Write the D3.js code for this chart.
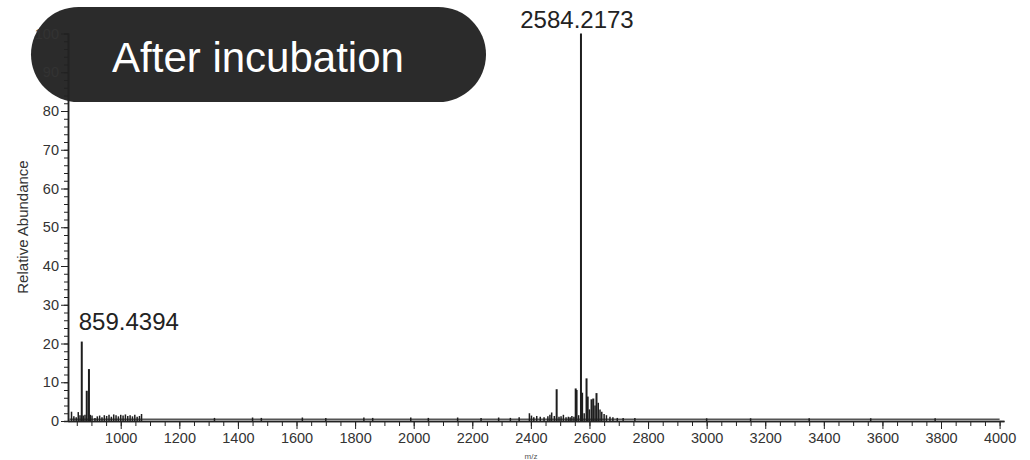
<!DOCTYPE html>
<html>
<head>
<meta charset="utf-8">
<script src="https://cdn.jsdelivr.net/npm/d3@7"></script>
<style>
  body { margin: 0; background: #fff; }
  svg { display: block; font-family: "Liberation Sans", Arial, sans-serif; }
</style>
</head>
<body>
<div id="chart"></div>
<script>
const WIDTH = 1030;
const HEIGHT = 460;

// peak list (m/z, relative abundance %)
const peakMz = [
  832, 840, 848, 855, 861, 867, 872, 878, 884, 891.5, 896, 902,
  912, 920, 928, 936, 944, 952, 960, 968, 976, 984, 992, 1000, 1008, 1016, 1024, 1032, 1040, 1048, 1056, 1064, 1071,
  1320, 1450, 1480, 1620, 1700, 1830, 1860, 1990, 2050, 2150, 2230, 2290, 2330, 2360,
  2395, 2402, 2410, 2420, 2432, 2445, 2458, 2465, 2471, 2480, 2488, 2496, 2503, 2511, 2520, 2528, 2534, 2540, 2547,
  2553, 2556, 2563, 2571, 2575, 2582, 2590, 2594, 2600, 2607, 2613, 2619, 2624, 2630, 2636, 2642, 2650, 2658, 2670, 2680, 2695, 2715, 2755,
  3000, 3150, 3350, 3560, 3780
];
const peakInt = [
  2.4, 1.2, 1.0, 2.3, 1.5, 20.5, 1.4, 1.6, 7.8, 13.4, 1.6, 1.4,
  0.8, 1.2, 1.4, 1.0, 1.5, 1.3, 1.6, 1.1, 1.7, 1.5, 1.2, 1.6, 1.4, 1.7, 1.3, 1.5, 1.2, 1.6, 1.1, 1.3, 1.8,
  0.8, 0.9, 0.8, 0.9, 0.8, 0.9, 0.8, 0.9, 0.8, 0.9, 0.8, 0.9, 0.8, 1.0,
  2.0, 1.4, 1.0, 1.3, 1.1, 1.0, 1.2, 1.6, 2.2, 1.3, 8.2, 1.1, 1.2, 1.6, 1.0, 1.1, 1.0, 1.3, 1.1,
  8.4, 8.0, 1.5, 100, 7.3, 2.0, 11.0, 6.3, 3.0, 5.6, 5.8, 4.0, 7.2, 4.7, 3.0, 2.4, 1.8, 1.5, 1.1, 1.0, 0.8, 0.8, 0.8,
  0.7, 0.7, 0.7, 0.7, 0.7
];
const floorLevel = 0.45;

const labelMz = [867, 2571];
const labelText = ["859.4394", "2584.2173"];

const yMajor = d3.range(0, 101, 10);
const yMinor = d3.range(0, 101, 2);
const xMajor = d3.range(1000, 4001, 200);
const xMinor = d3.range(850, 4001, 50);

const x = d3.scaleLinear().domain([820, 4015]).range([68, 1004]);
const y = d3.scaleLinear().domain([0, 100]).range([421, 33.5]);

const svg = d3.select("#chart")
  .append("svg")
    .attr("width", WIDTH)
    .attr("height", HEIGHT);

// title pill
svg.append("rect")
  .attr("x", 31)
  .attr("y", 7)
  .attr("width", 455)
  .attr("height", 95)
  .attr("rx", 47.5)
  .attr("fill", "#2b2b2b");

svg.append("text")
  .attr("x", 258)
  .attr("y", 72)
  .attr("text-anchor", "middle")
  .attr("fill", "#fff")
  .style("font-size", "42px")
  .text("After incubation");

// noise floor
svg.append("line")
  .attr("x1", x(825)).attr("x2", x(4000))
  .attr("y1", y(floorLevel)).attr("y2", y(floorLevel))
  .attr("stroke", "#555")
  .attr("stroke-width", 1.5);

// sticks
const peaks = peakMz.map((m, i) => ({ mz: m, v: peakInt[i] }));
svg.append("g")
  .selectAll("line")
  .data(peaks)
  .join("line")
    .attr("x1", d => x(d.mz)).attr("x2", d => x(d.mz))
    .attr("y1", y(0)).attr("y2", d => y(d.v))
    .attr("stroke", "#1e1e1e")
    .attr("stroke-width", d => d.v > 5 ? 2 : 1.5);

// axes
const yAxis = svg.append("g").attr("transform", `translate(${x.range()[0]},0)`);
yAxis.call(d3.axisLeft(y).tickValues(yMinor).tickSize(4).tickFormat(""));
yAxis.append("g").call(d3.axisLeft(y).tickValues(yMajor).tickSize(7).tickSizeOuter(0).tickPadding(2).tickFormat(d3.format("d")));

const xAxis = svg.append("g").attr("transform", `translate(0,${y(0)})`);
xAxis.call(d3.axisBottom(x).tickValues(xMinor).tickSize(5).tickSizeOuter(0).tickFormat(""));
xAxis.append("g").call(d3.axisBottom(x).tickValues(xMajor).tickSize(8).tickSizeOuter(0).tickPadding(4).tickFormat(d3.format("d")));

svg.selectAll(".domain").attr("stroke", "#222").attr("stroke-width", 1.5);
svg.selectAll(".tick line").attr("stroke", "#222");
svg.selectAll(".tick text")
  .attr("fill", "#333")
  .style("font-size", "14.5px")
  .style("font-family", "Liberation Sans, Arial, sans-serif");

// peak labels
svg.append("text")
  .attr("x", x(labelMz[0]) - 3)
  .attr("y", y(peakInt[peakMz.indexOf(labelMz[0])]) - 12)
  .attr("fill", "#222")
  .style("font-size", "24px")
  .text(labelText[0]);

svg.append("text")
  .attr("x", x(labelMz[1]) - 4)
  .attr("y", y(100) - 6)
  .attr("text-anchor", "middle")
  .attr("fill", "#222")
  .style("font-size", "24px")
  .text(labelText[1]);

// axis titles
svg.append("text")
  .attr("transform", "translate(28,227) rotate(-90)")
  .attr("text-anchor", "middle")
  .attr("fill", "#333")
  .style("font-size", "15px")
  .text("Relative Abundance");

svg.append("text")
  .attr("x", 531)
  .attr("y", 459)
  .attr("text-anchor", "middle")
  .attr("fill", "#555")
  .style("font-size", "8px")
  .text("m/z");
</script>
</body>
</html>
